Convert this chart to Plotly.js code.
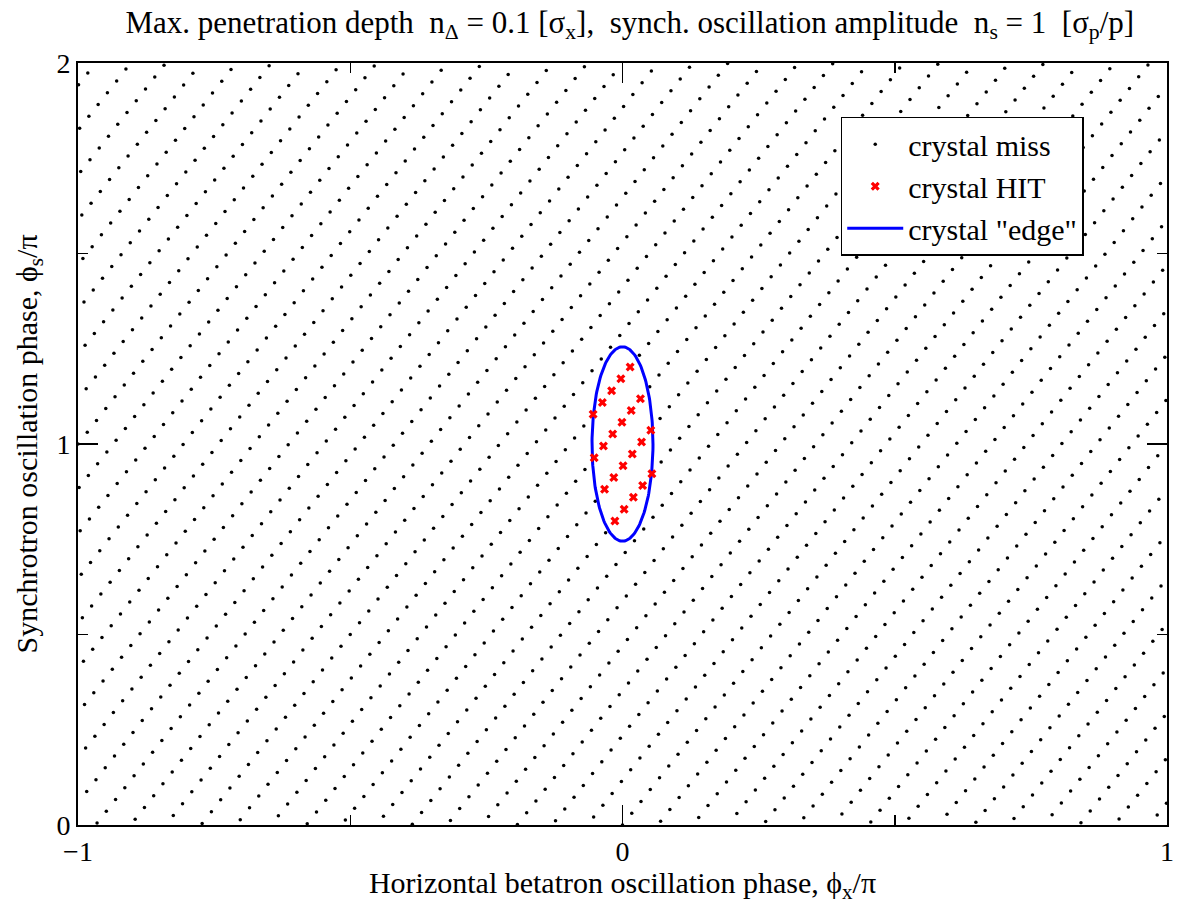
<!DOCTYPE html>
<html><head><meta charset="utf-8">
<script src="https://cdn.plot.ly/plotly-3.0.1.min.js"></script>
<style>html,body{margin:0;padding:0;background:#fff}</style>
</head><body><div id="chart" style="width:1186px;height:904px"></div>
<script>
// Tracking data: one point per turn,
// phase advances per turn in units of pi (lattice)
const turnCount = 2000;
const phaseAdvanceX = -0.193;   // phi_x/pi per turn (mod 2)
const phaseAdvanceS = 0.001;    // phi_s/pi per turn

// Turns that hit the crystal (red crosses)
const hitX = [0.014, -0.003, -0.020, -0.037, -0.054,
              0.033, 0.016, -0.001, -0.018, -0.035, -0.052,
              0.052, 0.035, 0.018, 0.001, -0.016, -0.033,
              0.054, 0.037, 0.020, 0.003, -0.014];
const hitY = [1.202, 1.171, 1.140, 1.109, 1.078,
              1.119, 1.088, 1.057, 1.026, 0.995, 0.964,
              1.036, 1.005, 0.974, 0.943, 0.912, 0.881,
              0.922, 0.891, 0.860, 0.829, 0.798];

// Crystal "edge" ellipse
const edgeCenter = [0, 1];
const edgeSemiAxes = [0.056, 0.255];

const xTickVals = [-1, 0, 1];
const yTickVals = [0, 1, 2];

// Build miss points from the per-turn phase advance
const stepX = Math.round(phaseAdvanceX * 1000);
const stepS = Math.round(phaseAdvanceS * 1000);
const hitKeys = new Set(hitY.map(v => Math.round(v * 1000)));
const missX = [], missY = [];
for (let n = 0; n < turnCount; n++) {
  let X = ((stepX * n) % 2000 + 2000) % 2000;
  if (X >= 1000) X -= 2000;
  const S = (stepS * n) % 2000;
  if (hitKeys.has(S)) continue;
  missX.push(X / 1000);
  missY.push(S / 1000);
}
const edgeX = [], edgeY = [];
for (let k = 0; k <= 200; k++) {
  const t = 2 * Math.PI * k / 200;
  edgeX.push(edgeCenter[0] + edgeSemiAxes[0] * Math.cos(t));
  edgeY.push(edgeCenter[1] + edgeSemiAxes[1] * Math.sin(t));
}

const FONT = 'Liberation Serif, Times New Roman, serif';
const traces = [
  {x: missX, y: missY, type: 'scatter', mode: 'markers', name: 'crystal miss',
   marker: {color: '#000', size: 3.5}, cliponaxis: false, legendrank: 1},
  {x: edgeX, y: edgeY, type: 'scatter', mode: 'lines', name: 'crystal "edge"',
   line: {color: '#0000ff', width: 3}, legendrank: 3},
  {x: hitX, y: hitY, type: 'scatter', mode: 'markers', name: 'crystal HIT',
   marker: {color: '#ff0000', size: 8, symbol: 'x'}, legendrank: 2}
];

const axisCommon = {
  showgrid: false, zeroline: false, showline: true, linecolor: '#000', linewidth: 2,
  mirror: 'allticks', ticks: 'inside', ticklen: 20, tickwidth: 1.5, tickcolor: '#000',
  tickfont: {family: FONT, size: 28, color: '#000'},
  minor: {dtick: 0.5, ticks: 'inside', ticklen: 10, tickwidth: 1.5, tickcolor: '#000'}
};

const layout = {
  width: 1186, height: 904,
  margin: {l: 78, r: 19, t: 63, b: 79},
  paper_bgcolor: '#fff', plot_bgcolor: '#fff',
  font: {family: FONT, color: '#000'},
  title: {text: 'Max. penetration depth\u00a0 n<sub>\u0394</sub> = 0.1 [\u03c3<sub>x</sub>],\u00a0 synch. oscillation amplitude\u00a0 n<sub>s</sub> = 1\u00a0 [\u03c3<sub>p</sub>/p]',
          font: {family: FONT, size: 31, color: '#000'}, x: 0.531, xanchor: 'center', y: 0.988, yanchor: 'top'},
  xaxis: Object.assign({}, axisCommon, {
    range: [-1, 1], tickvals: xTickVals, ticktext: ['\u22121', '0', '1'],
    title: {text: 'Horizontal betatron oscillation phase, \u03d5<sub>x</sub>/\u03c0', font: {family: FONT, size: 30, color: '#000'}, standoff: 2}
  }),
  yaxis: Object.assign({}, axisCommon, {
    range: [0, 2], tickvals: yTickVals,
    title: {text: 'Synchrotron oscillation phase, \u03d5<sub>s</sub>/\u03c0', font: {family: FONT, size: 30, color: '#000'}, standoff: 10}
  }),
  showlegend: true,
  legend: {x: 0.7004, y: 0.9295, xanchor: 'left', yanchor: 'top',
           bgcolor: '#fff', bordercolor: '#000', borderwidth: 1.5, itemwidth: 56,
           font: {family: FONT, size: 30, color: '#000'}, traceorder: 'normal'}
};

Plotly.newPlot('chart', traces, layout, {displayModeBar: false, staticPlot: true});
</script></body></html>
